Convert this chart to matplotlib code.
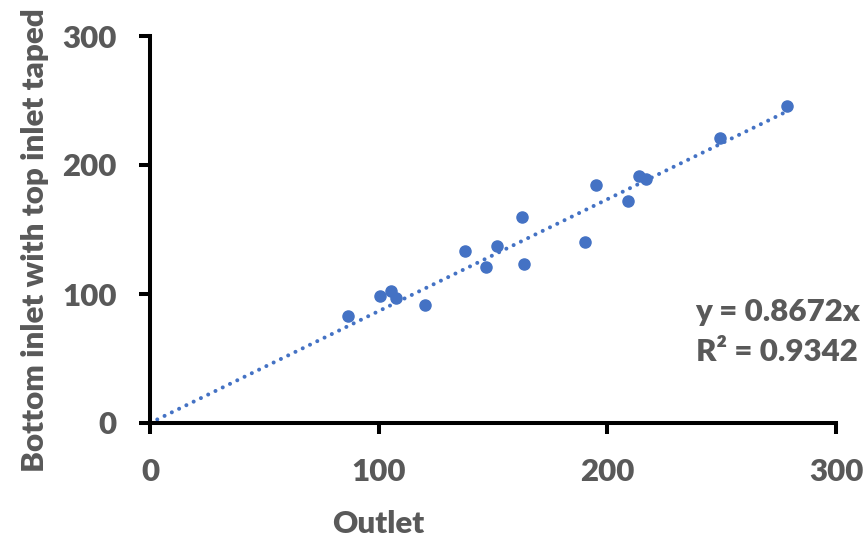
import matplotlib
matplotlib.use('Agg')
import matplotlib.pyplot as plt
import numpy as np

# data
outlet = [86.7, 100.6, 105.5, 107.6, 120.4, 137.9, 146.9, 151.9, 162.8, 163.6,
          190.2, 195.0, 208.9, 213.8, 216.9, 249.3, 278.7]
bottom_taped = [82.9, 98.7, 102.3, 96.7, 91.7, 133.6, 121.2, 137.2, 159.7, 123.3,
                140.6, 184.3, 171.9, 191.5, 189.4, 221.2, 245.7]
slope = 0.8672
r2 = 0.9342
ticks = [0, 100, 200, 300]

blue = '#4472C4'
gray = '#595959'
fs = 22.5
wt = 'heavy'
plt.rcParams['font.family'] = ['Lato', 'DejaVu Sans']

fig = plt.figure(figsize=(8.68, 5.44), dpi=100)
ax = fig.add_axes([150/868, 1-423/544, 686/868, 387/544])

# trendline through origin
xs = np.array([0, max(outlet)])
ax.plot(xs, slope*xs, color=blue, lw=2.9, linestyle=(0, (0.01, 2.0)),
        dash_capstyle='round', zorder=2)
ax.plot(outlet, bottom_taped, 'o', color=blue, ms=8, zorder=3, clip_on=False)

ax.set_xlim(0, 300)
ax.set_ylim(0, 300)
ax.set_xticks(ticks)
ax.set_yticks(ticks)
for s in ['top', 'right']:
    ax.spines[s].set_visible(False)
for s in ['left', 'bottom']:
    ax.spines[s].set_linewidth(2.9)
ax.tick_params(direction='out', length=8, width=2.9, labelsize=fs,
               labelcolor=gray)
ax.tick_params(axis='x', pad=17)
ax.tick_params(axis='y', pad=16)
for lab in ax.get_xticklabels() + ax.get_yticklabels():
    lab.set_fontweight(wt)

fig.text(378/868, 1-524/544, 'Outlet', ha='center', va='center',
         fontsize=fs, color=gray, fontweight=wt)
fig.text(35/868, 1-240/544, 'Bottom inlet with top inlet taped', ha='center',
         va='center', rotation=90, fontsize=fs, color=gray, fontweight=wt)
fig.text(860/868, 1-312/544, 'y = %.4fx' % slope, ha='right', va='center',
         fontsize=fs, color=gray, fontweight=wt)
fig.text(858/868, 1-352/544, 'R² = %.4f' % r2, ha='right', va='center',
         fontsize=fs, color=gray, fontweight=wt)

fig.savefig('out.png', dpi=100)
